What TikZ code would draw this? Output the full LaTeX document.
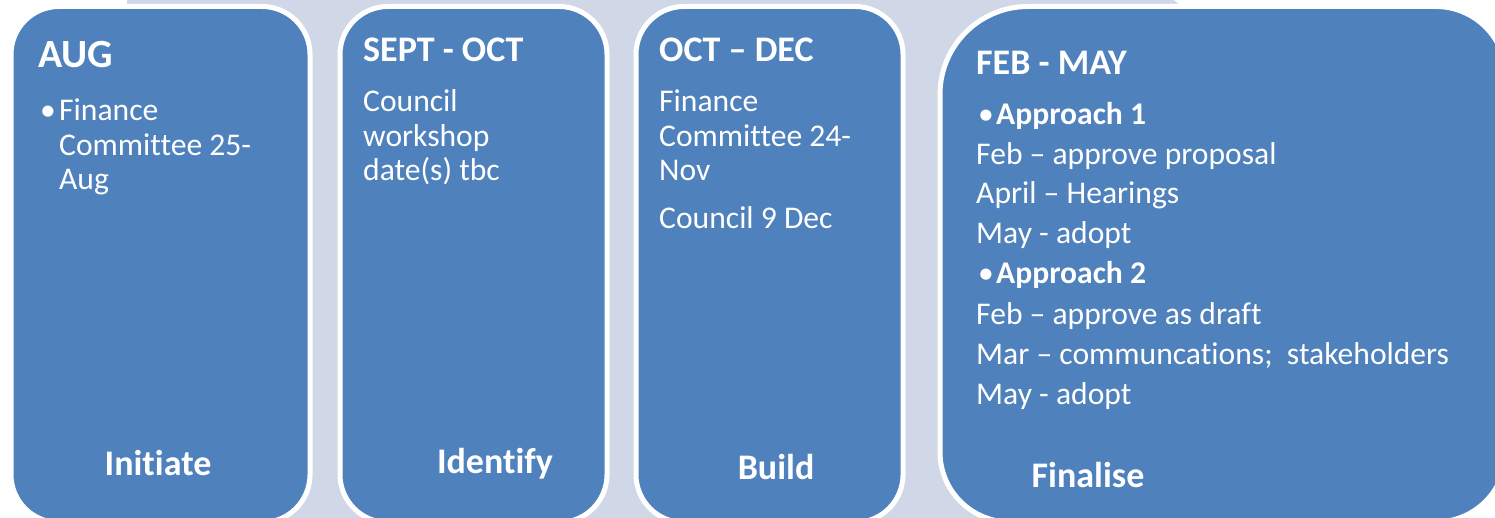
\documentclass[tikz,border=0pt]{standalone}
\usepackage{fontspec}
\setmainfont{Carlito}[Ligatures={NoCommon,NoContextual}]
\definecolor{stageblue}{HTML}{4F81BD}
\definecolor{bandgray}{HTML}{D0D8E8}
\begin{document}
\begin{tikzpicture}[x=1bp,y=-1bp,
  paint/.style={fill=stageblue, draw=white, line width=5bp},
  stage/.style={paint, rounded corners=48bp,
    anchor=north west, inner sep=0, outer sep=0},
  frame/.style={anchor=north west, inner sep=0, outer sep=0},
  hd/.style={text=white, font=\fontsize{36bp}{40bp}\selectfont\bfseries, anchor=base west, inner sep=0},
  hdbig/.style={hd, font=\fontsize{40bp}{44bp}\selectfont\bfseries},
  body/.style={text=white, font=\fontsize{31.6bp}{36bp}\selectfont, anchor=base west, inner sep=0},
  bodybf/.style={body, font=\fontsize{31.6bp}{36bp}\selectfont\bfseries},
  foot/.style={text=white, font=\fontsize{36bp}{40bp}\selectfont\bfseries, anchor=base, inner sep=0}]
\useasboundingbox (0,0) rectangle (1495,518);
\clip (0,0) rectangle (1495,518);

% pale band running behind the stages
\fill[bandgray] (127,-10) -- (1162,-10) -- (1188,12) -- (1188,530) -- (127,530) -- cycle;

% stage boxes
\node[stage, minimum width=299bp, minimum height=516bp] (aug) at (11,6.5) {};
\node[stage, minimum width=267bp, minimum height=516bp] (sept) at (340,6.5) {};
\node[stage, minimum width=267bp, minimum height=516bp] (oct) at (636,6.5) {};

% last stage: wider, with corners of different radii
\node[frame, minimum width=566bp, minimum height=516bp] (feb) at (940,6.5) {};
\filldraw[paint] (940,94.5) .. controls (940,45.9) and (979.4,6.5) .. (1028,6.5)
  -- (1436,6.5) .. controls (1474.6,6.5) and (1506,37.9) .. (1506,76.5)
  -- (1506,452) .. controls (1506,490.6) and (1474.6,522) .. (1436,522)
  -- (1010,522) .. controls (971.3,522) and (940,490.7) .. (940,452)
  -- cycle;

% AUG
\node[hdbig] (augh) at (38,68) {AUG};
\node[body] (augb) at (40,121) {•};
\node[body] (aug1) at (59,121) {Finance};
\node[body] (aug2) at (59,156) {Committee 25-};
\node[body] (aug3) at (59,190) {Aug};
\node[foot] (augf) at (158,475) {Initiate};

% SEPT - OCT
\node[hd] (septh) at (363,62) {SEPT - OCT};
\node[body] (sept1) at (363,112) {Council};
\node[body] (sept2) at (363,146.5) {workshop};
\node[body] (sept3) at (363,181) {date(s) tbc};
\node[foot] (septf) at (495,473) {Identify};

% OCT - DEC
\node[hd] (octh) at (659,62) {OCT – DEC};
\node[body] (oct1) at (659,112) {Finance};
\node[body] (oct2) at (659,146.5) {Committee 24-};
\node[body] (oct3) at (659,181) {Nov};
\node[body] (oct4) at (659,229) {Council 9 Dec};
\node[foot] (octf) at (776,479) {Build};

% FEB - MAY
\node[hd] (febh) at (976,75) {FEB - MAY};
\node[body] (febb1) at (978,125) {•};
\node[bodybf] (feba1) at (996,125) {Approach 1};
\node[body] (feb1) at (976,165) {Feb – approve proposal};
\node[body] (feb2) at (976,204) {April – Hearings};
\node[body] (feb3) at (976,244) {May - adopt};
\node[body] (febb2) at (978,284) {•};
\node[bodybf] (feba2) at (996,284) {Approach 2};
\node[body] (feb4) at (976,324) {Feb – approve as draft};
\node[body] (feb5) at (976,364) {Mar – communcations;\ \ stakeholders};
\node[body] (feb6) at (976,404) {May - adopt};
\node[foot] (febf) at (1088,487) {Finalise};
\end{tikzpicture}
\end{document}
